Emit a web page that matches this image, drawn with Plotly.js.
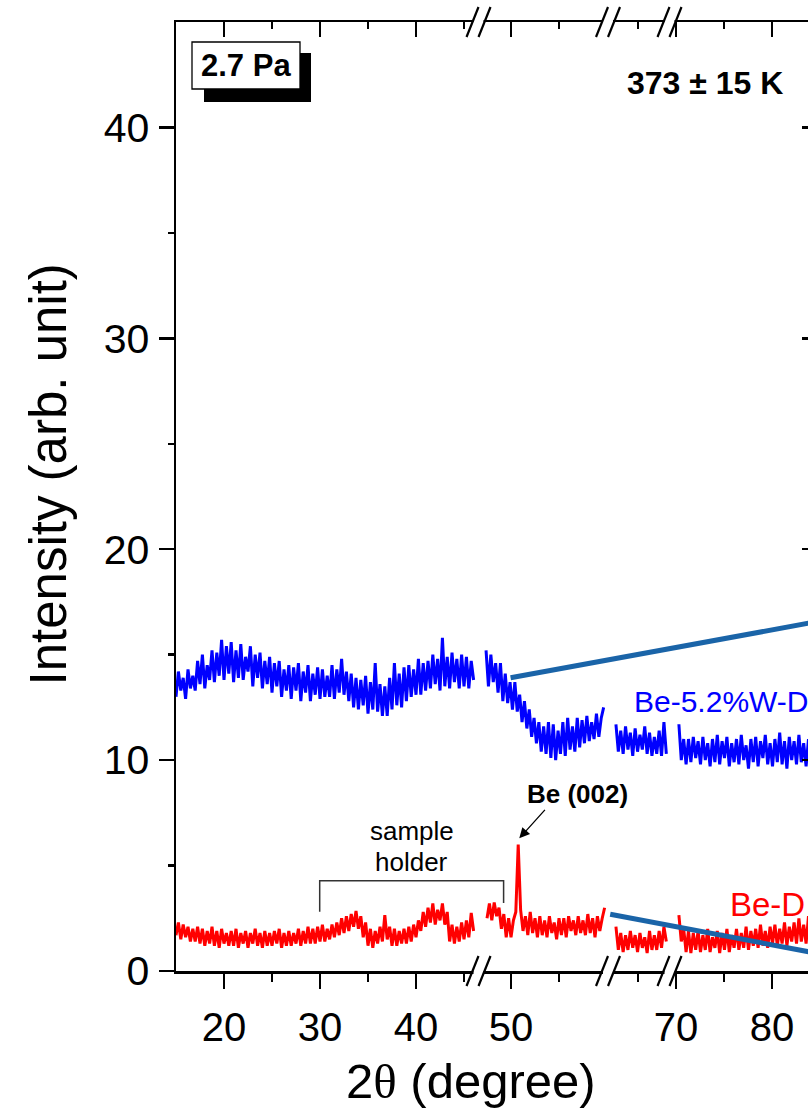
<!DOCTYPE html>
<html>
<head>
<meta charset="utf-8">
<script src="https://cdn.plot.ly/plotly-3.0.1.min.js"></script>
<style>
html, body { margin: 0; padding: 0; overflow: hidden; background: #fff; }
#chart { width: 823px; height: 1110px; }
</style>
</head>
<body>
<div id="chart"></div>
<script>
// ---------- data ----------
const STEP = 0.25;

// x-axis segments (broken axis), degrees 2θ
const segRanges = [[15, 46.51], [46.615, 60.104], [61.875, 68.28], [69.323, 84.79]];
const segMajorTicks = [[20, 30, 40], [50], [], [70, 80]];
const segMinorTicks = [[25, 35, 45], [55], [65], [75]];

// start angle of each trace piece
const blueStarts = [15, 47.4, 62.7, 70.3];
const redStarts = [15, 47.5, 62.7, 70.3];

// Be-5.2%W-D  (blue)
const blueSeg1 = [
  13.0, 14.2, 13.3, 13.9, 12.9, 14.3, 13.4, 14.0,
  13.3, 14.7, 13.6, 15.0, 13.4, 14.5, 13.8, 15.2,
  13.7, 15.1, 14.0, 15.7, 13.8, 15.4, 14.1, 15.6,
  13.7, 15.2, 13.9, 15.5, 13.8, 14.9, 14.2, 15.4,
  13.5, 15.0, 13.9, 15.1, 13.4, 14.7, 13.6, 14.9,
  13.2, 14.6, 13.5, 14.7, 13.0, 14.3, 13.3, 14.5,
  12.9, 14.4, 13.3, 14.6, 12.8, 14.2, 13.2, 14.5,
  12.8, 14.1, 13.1, 14.4, 12.9, 14.3, 13.0, 14.0,
  13.0, 14.5, 12.9, 14.3, 13.2, 14.8, 13.1, 14.2,
  12.8, 14.1, 12.5, 13.9, 12.4, 13.8, 12.6, 14.0,
  12.2, 13.7, 12.4, 14.6, 12.3, 13.6, 12.1, 13.5,
  12.1, 13.9, 12.4, 14.6, 12.6, 14.1, 12.5, 14.4,
  12.8, 14.5, 13.0, 14.3, 13.1, 14.8, 13.1, 14.6,
  13.3, 14.7, 13.4, 15.0, 13.6, 14.8, 13.3, 15.8,
  13.5, 14.9, 13.4, 15.1, 13.7, 14.8, 13.4, 15.0,
  13.5, 14.9, 13.4, 14.7, 13.8
];
const blueSeg2 = [
  15.2, 13.5, 15.0, 13.7, 14.6, 13.2, 14.6, 12.8,
  14.1, 12.7, 13.7, 12.4, 13.7, 12.3, 13.1, 11.8,
  12.8, 11.5, 12.4, 11.1, 12.0, 10.8, 11.8, 10.4,
  11.6, 10.3, 11.8, 10.1, 11.7, 10.0, 11.4, 10.3,
  11.8, 10.2, 12.0, 10.5, 11.6, 10.4, 12.0, 10.6,
  11.9, 10.8, 12.1, 10.9, 11.8, 11.0, 12.2, 11.1,
  12.0, 12.5
];
const blueSeg3 = [
  11.7, 10.4, 11.4, 10.3, 11.6, 10.5, 11.3, 10.2,
  11.5, 10.4, 11.2, 10.5, 11.6, 10.3, 11.3, 10.2,
  11.1, 10.3, 11.4, 10.2, 11.8, 10.3
];
const blueSeg4 = [
  11.7, 10.0, 11.0, 9.8, 11.0, 9.9, 11.1, 10.1,
  10.9, 9.8, 11.1, 10.0, 10.8, 9.7, 11.0, 9.9,
  11.2, 9.8, 10.9, 10.1, 11.1, 9.7, 10.8, 9.9,
  11.0, 9.8, 11.2, 10.0, 10.7, 9.6, 11.0, 9.9,
  11.1, 9.7, 10.9, 10.1, 11.2, 9.8, 10.8, 9.7,
  11.0, 9.9, 11.3, 9.8, 10.9, 9.6, 11.1, 10.0,
  10.9, 9.8, 11.2, 9.9, 10.8, 9.7, 11.0, 10.0,
  10.6
];

// Be-D  (red)
const redSeg1 = [
  1.7, 2.3, 1.5, 2.2, 1.6, 2.1, 1.4, 2.0,
  1.4, 2.1, 1.3, 2.0, 1.2, 1.9, 1.3, 2.1,
  1.2, 1.9, 1.1, 2.0, 1.3, 1.8, 1.2, 1.9,
  1.2, 2.0, 1.1, 1.8, 1.3, 1.9, 1.1, 1.8,
  1.3, 2.0, 1.2, 1.8, 1.1, 1.9, 1.2, 1.8,
  1.2, 1.9, 1.3, 2.0, 1.1, 1.8, 1.2, 1.9,
  1.2, 1.8, 1.3, 2.0, 1.2, 1.9, 1.3, 2.1,
  1.3, 2.0, 1.3, 2.1, 1.4, 2.2, 1.4, 2.0,
  1.5, 2.2, 1.6, 2.3, 1.7, 2.5, 1.8, 2.6,
  1.9, 2.7, 2.1, 2.85, 2.0, 2.6, 1.6, 2.3,
  1.2, 2.0, 1.1, 1.9, 1.3, 2.1, 1.4, 2.65,
  1.5, 2.1, 1.2, 2.0, 1.2, 1.9, 1.3, 2.0,
  1.3, 2.1, 1.4, 2.2, 1.6, 2.4, 1.9, 2.8,
  2.1, 3.0, 2.3, 3.2, 2.2, 2.9, 2.4, 3.2,
  2.2, 2.8, 1.4, 2.2, 1.3, 2.1, 1.4, 2.3,
  1.5, 2.4, 1.6, 2.75, 1.9
];
const redSeg2 = [
  2.5, 3.2, 2.4, 3.25, 2.6, 3.0, 2.0, 2.7,
  1.6, 2.5, 1.6, 2.4, 2.8, 6.0, 2.9, 1.9,
  2.6, 1.7, 2.8, 1.8, 2.5, 1.6, 2.6, 1.7,
  2.4, 1.6, 2.6, 1.8, 2.3, 1.5, 2.5, 1.7,
  2.5, 1.6, 2.6, 1.9, 2.4, 1.7, 2.6, 1.8,
  2.4, 1.7, 2.7, 1.8, 2.5, 1.6, 2.6, 1.9,
  2.5, 3.0
];
const redSeg3 = [
  2.1, 1.0, 1.8, 0.9, 1.7, 1.0, 1.9, 1.1,
  1.7, 0.9, 1.8, 1.1, 1.6, 0.85, 1.9, 1.0,
  1.7, 1.0, 1.9, 1.1, 2.1, 1.4
];
const redSeg4 = [
  2.65, 1.4, 2.0, 0.9, 1.9, 0.85, 1.8, 1.0,
  1.9, 0.9, 1.7, 1.0, 2.0, 0.9, 1.6, 1.1,
  1.9, 0.85, 1.8, 1.0, 2.0, 0.9, 1.7, 1.1,
  2.0, 1.0, 1.8, 1.1, 2.1, 1.0, 1.9, 1.2,
  2.0, 1.1, 2.2, 1.2, 1.9, 1.1, 2.1, 1.3,
  2.2, 1.2, 2.0, 1.3, 2.3, 1.2, 2.1, 1.4,
  2.3, 1.3, 2.5, 1.4, 2.2, 1.3, 2.6, 1.5,
  2.4
];

const yTickVals = [0, 10, 20, 30, 40];
const yMinorVals = [5, 15, 25, 35];

// ---------- build ----------
const FONT = 'Liberation Sans, Arial, sans-serif';
const BLUE = '#0000ff', RED = '#ff0000';
const blueSegs = [blueSeg1, blueSeg2, blueSeg3, blueSeg4];
const redSegs = [redSeg1, redSeg2, redSeg3, redSeg4];

function grid(start, n) { const a = []; for (let i = 0; i < n; i++) a.push(+(start + i * STEP).toFixed(3)); return a; }

// domains proportional to the span of each segment (same degrees-per-pixel everywhere)
const spans = segRanges.map(r => r[1] - r[0]);
const total = spans.reduce((a, b) => a + b, 0);
const domains = []; let acc = 0;
spans.forEach(s => { domains.push([acc / total, (acc + s) / total]); acc += s; });
domains[3][1] = 1;

const traces = [];
for (let k = 0; k < 4; k++) {
  const xa = k === 0 ? 'x' : 'x' + (k + 1);
  traces.push({ x: grid(blueStarts[k], blueSegs[k].length), y: blueSegs[k], xaxis: xa, yaxis: 'y',
    type: 'scatter', mode: 'lines', line: { color: BLUE, width: 3 }, name: 'Be-5.2%W-D', showlegend: false, hoverinfo: 'skip' });
  traces.push({ x: grid(redStarts[k], redSegs[k].length), y: redSegs[k], xaxis: xa, yaxis: 'y',
    type: 'scatter', mode: 'lines', line: { color: RED, width: 3 }, name: 'Be-D', showlegend: false, hoverinfo: 'skip' });
}
// empty traces so that the mirrored top axes and the right axis get drawn
for (let k = 0; k < 4; k++) {
  traces.push({ x: [], y: [], xaxis: 'x' + (k + 5), yaxis: 'y', type: 'scatter', mode: 'lines', showlegend: false, hoverinfo: 'skip' });
}
traces.push({ x: [], y: [], xaxis: 'x4', yaxis: 'y2', type: 'scatter', mode: 'lines', showlegend: false, hoverinfo: 'skip' });

const layout = {
  width: 823, height: 1110,
  margin: { l: 176, r: 5, t: 22, b: 139 },
  paper_bgcolor: '#fff', plot_bgcolor: '#fff',
  font: { family: FONT, color: '#000' },
  showlegend: false,
  yaxis: {
    range: [0, 45], anchor: 'x', tickmode: 'array', tickvals: yTickVals,
    ticks: 'outside', ticklen: 15, tickwidth: 2.5, tickcolor: '#000', ticklabelstandoff: 1,
    minor: { tickmode: 'array', tickvals: yMinorVals, ticks: 'outside', ticklen: 6, tickwidth: 2.5, tickcolor: '#000' },
    showline: true, linewidth: 2.5, linecolor: '#000', showgrid: false, zeroline: false,
    tickfont: { family: FONT, size: 41 }
  },
  yaxis2: {
    range: [0, 45], overlaying: 'y', side: 'right', anchor: 'free', position: 1,
    tickmode: 'array', tickvals: yTickVals, ticks: 'inside', ticklen: 15, tickwidth: 2.5, tickcolor: '#000',
    minor: { tickmode: 'array', tickvals: yMinorVals, ticks: 'inside', ticklen: 7, tickwidth: 2.5, tickcolor: '#000' },
    showticklabels: false, showline: true, linewidth: 2.5, linecolor: '#000', showgrid: false, zeroline: false
  },
  annotations: [],
  shapes: []
};

for (let k = 0; k < 4; k++) {
  const name = k === 0 ? 'xaxis' : 'xaxis' + (k + 1);
  const base = k === 0 ? 'x' : 'x' + (k + 1);
  layout[name] = {
    domain: domains[k], range: segRanges[k], anchor: 'y',
    tickmode: 'array', tickvals: segMajorTicks[k], ticktext: segMajorTicks[k].map(String),
    ticks: 'outside', ticklen: 15, tickwidth: 2.5, tickcolor: '#000', ticklabelstandoff: 4,
    minor: { tickmode: 'array', tickvals: segMinorTicks[k], ticks: 'outside', ticklen: 8, tickwidth: 2.5, tickcolor: '#000' },
    showline: true, linewidth: 2.5, linecolor: '#000', showgrid: false, zeroline: false,
    tickfont: { family: FONT, size: 40 }
  };
  layout['xaxis' + (k + 5)] = {
    overlaying: base, side: 'top', anchor: 'y', range: segRanges[k],
    tickmode: 'array', tickvals: segMajorTicks[k],
    ticks: 'inside', ticklen: 15, tickwidth: 2.5, tickcolor: '#000',
    minor: { tickmode: 'array', tickvals: segMinorTicks[k], ticks: 'inside', ticklen: 7, tickwidth: 2.5, tickcolor: '#000' },
    showticklabels: false, showline: true, linewidth: 2.5, linecolor: '#000', showgrid: false, zeroline: false
  };
}

// pixel helpers for decorations (plot area: x 176..818, y 22..971)
const PX = v => (v - 176) / 642;
const PY = v => (971 - v) / 949;

// axis-break marks "//" at segment joins, bottom and top
for (let k = 1; k < 4; k++) {
  const b = domains[k][0];
  [0, 1].forEach(yp => {
    layout.shapes.push({ type: 'rect', xref: 'paper', yref: 'paper', xsizemode: 'pixel', ysizemode: 'pixel',
      xanchor: b, yanchor: yp, x0: -5, x1: 5, y0: -3, y1: 3, fillcolor: '#fff', line: { width: 0 }, layer: 'above' });
    [-6, 6].forEach(off => {
      layout.shapes.push({ type: 'line', xref: 'paper', yref: 'paper', xsizemode: 'pixel', ysizemode: 'pixel',
        xanchor: b, yanchor: yp, x0: off - 6, y0: -15, x1: off + 6, y1: 15, line: { color: '#000', width: 2.2 }, layer: 'above' });
    });
  });
}

// "2.7 Pa" box with drop shadow
layout.shapes.push({ type: 'rect', xref: 'paper', yref: 'paper', x0: PX(204), x1: PX(311), y0: PY(102), y1: PY(53),
  fillcolor: '#000', line: { width: 0 }, layer: 'above' });
layout.shapes.push({ type: 'rect', xref: 'paper', yref: 'paper', x0: PX(192), x1: PX(300), y0: PY(89), y1: PY(42),
  fillcolor: '#fff', line: { color: '#000', width: 1.3 }, layer: 'above' });

// sample-holder bracket
layout.shapes.push({ type: 'path', xref: 'paper', yref: 'paper',
  path: `M ${PX(319.7)},${PY(911.7)} L ${PX(319.7)},${PY(880.7)} L ${PX(503.6)},${PY(880.7)} L ${PX(503.6)},${PY(903)}`,
  line: { color: '#333', width: 1.5 }, layer: 'above' });

// connector lines towards the (cropped) insets
layout.shapes.push({ type: 'line', xref: 'paper', yref: 'paper', x0: PX(510.6), y0: PY(677.7), x1: 1, y1: PY(621.5),
  line: { color: '#1a64a8', width: 5 }, layer: 'above' });
layout.shapes.push({ type: 'line', xref: 'paper', yref: 'paper', x0: PX(610.2), y0: PY(914.3), x1: 1, y1: PY(953.5),
  line: { color: '#1a64a8', width: 5 }, layer: 'above' });

const ann = (text, x, y, size, opts) => Object.assign({ text, xref: 'paper', yref: 'paper', x, y, showarrow: false,
  xanchor: 'center', yanchor: 'middle', font: { family: FONT, size, color: '#000' } }, opts || {});

layout.annotations.push(
  ann('<b>2.7 Pa</b>', PX(246), PY(65.5), 31),
  ann('<b>373 ± 15 K</b>', PX(705), PY(83.5), 32),
  ann('Be-5.2%W-D', PX(632), PY(701.5), 30, { xanchor: 'left', font: { family: FONT, size: 30, color: BLUE } }),
  ann('Be-D', PX(728), PY(904), 33, { xanchor: 'left', font: { family: FONT, size: 33, color: RED } }),
  ann('<b>Be (002)</b>', PX(577.5), PY(794), 26),
  ann('sample', PX(412), PY(831), 26),
  ann('holder', PX(411), PY(862), 26),
  // axis titles
  ann('2<span style="font-family:Liberation Serif">θ</span> (degree)', PX(471), PY(1081), 49),
  ann('Intensity (arb. unit)', PX(48), PY(474.5), 51, { textangle: -90 }),
  { text: '', xref: 'x2', yref: 'y', x: 50.86, y: 6.29, ax: 27, ay: -30, showarrow: true,
    arrowhead: 2, arrowsize: 1.6, arrowwidth: 1.3, arrowcolor: '#000', standoff: 0 }
);

Plotly.newPlot('chart', traces, layout, { staticPlot: true, displayModeBar: false });
</script>
</body>
</html>
